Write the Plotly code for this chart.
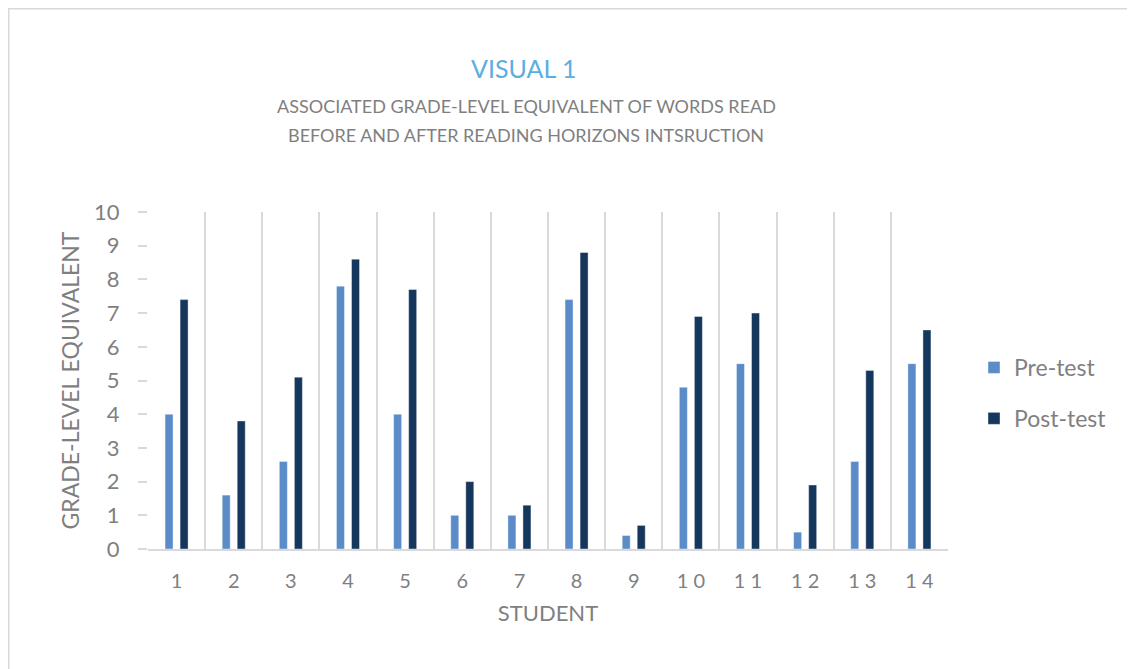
import plotly.graph_objects as go

students = [str(i) for i in range(1, 15)]
tick_text = ["1", "2", "3", "4", "5", "6", "7", "8", "9", "1 0", "1 1", "1 2", "1 3", "1 4"]
pre_test = [4.0, 1.6, 2.6, 7.8, 4.0, 1.0, 1.0, 7.4, 0.4, 4.8, 5.5, 0.5, 2.6, 5.5]
post_test = [7.4, 3.8, 5.1, 8.6, 7.7, 2.0, 1.3, 8.8, 0.7, 6.9, 7.0, 1.9, 5.3, 6.5]

OFF = 8  # page body margin
W, H = 1127, 661
L, R, T, B = 140, 187, 204, 120
PW, PH = W - L - R, H - T - B

def px(sx):
    return (sx - OFF - L) / PW

def py(sy):
    return (H - B - (sy - OFF)) / PH

FONT = "Lato"
GRAY = "#7f7f7f"

fig = go.Figure()
fig.add_trace(go.Bar(x=students, y=pre_test, name="Pre-test", legendgroup="pre",
                     marker=dict(color="#5b8cc8", line=dict(color="rgba(255,255,255,0.5)", width=0.8))))
fig.add_trace(go.Bar(x=students, y=post_test, name="Post-test", legendgroup="post",
                     marker=dict(color="#15365d", line=dict(color="rgba(255,255,255,0.5)", width=0.8))))

fig.update_layout(
    width=W, height=H,
    margin=dict(l=L, r=R, t=T, b=B, autoexpand=False),
    paper_bgcolor="white", plot_bgcolor="white",
    barmode="group", bargap=0.474, bargroupgap=0.467,
    font=dict(family=FONT, color=GRAY),
    showlegend=True,
    legend=dict(x=px(974), y=py(393), xanchor="left", yanchor="middle",
                font=dict(size=23, color=GRAY), tracegroupgap=18,
                itemwidth=30, bgcolor="rgba(0,0,0,0)"),
)
fig.update_xaxes(
    type="category", tickmode="array", tickvals=students, ticktext=tick_text,
    tickson="boundaries", showgrid=True, gridcolor="#d9d9d9", gridwidth=1.5,
    showline=True, linecolor="#d9d9d9", linewidth=1.5, ticks="",
    tickfont=dict(size=20, color=GRAY), ticklabelstandoff=13,
    title=dict(text="STUDENT", font=dict(size=22, color=GRAY), standoff=15),
)
fig.update_yaxes(
    range=[0, 10], dtick=1, showgrid=False, zeroline=False,
    showline=False, ticks="outside", ticklen=9, tickcolor="#d9d9d9", tickwidth=1.5,
    tickfont=dict(size=22, color=GRAY), ticklabelstandoff=14,
    title=dict(text="GRADE-LEVEL EQUIVALENT", font=dict(size=23, color=GRAY), standoff=8),
)

fig.add_annotation(x=px(523), y=py(68), xref="paper", yref="paper", text="VISUAL 1",
                   showarrow=False, font=dict(size=25, color="#5aaee3", family=FONT),
                   xanchor="center", yanchor="middle")
fig.add_annotation(x=px(526), y=py(106), xref="paper", yref="paper",
                   text="ASSOCIATED GRADE-LEVEL EQUIVALENT OF WORDS READ",
                   showarrow=False, font=dict(size=18, color=GRAY, family=FONT),
                   xanchor="center", yanchor="middle")
fig.add_annotation(x=px(526), y=py(135), xref="paper", yref="paper",
                   text="BEFORE AND AFTER READING HORIZONS INTSRUCTION",
                   showarrow=False, font=dict(size=18, color=GRAY, family=FONT),
                   xanchor="center", yanchor="middle")

fig.add_shape(type="rect", xref="paper", yref="paper",
              x0=px(8.75), x1=px(1160), y0=py(8.75), y1=py(700),
              line=dict(color="#d9d9d9", width=1.5), fillcolor="rgba(0,0,0,0)", layer="below")

fig.write_html("out.html")
